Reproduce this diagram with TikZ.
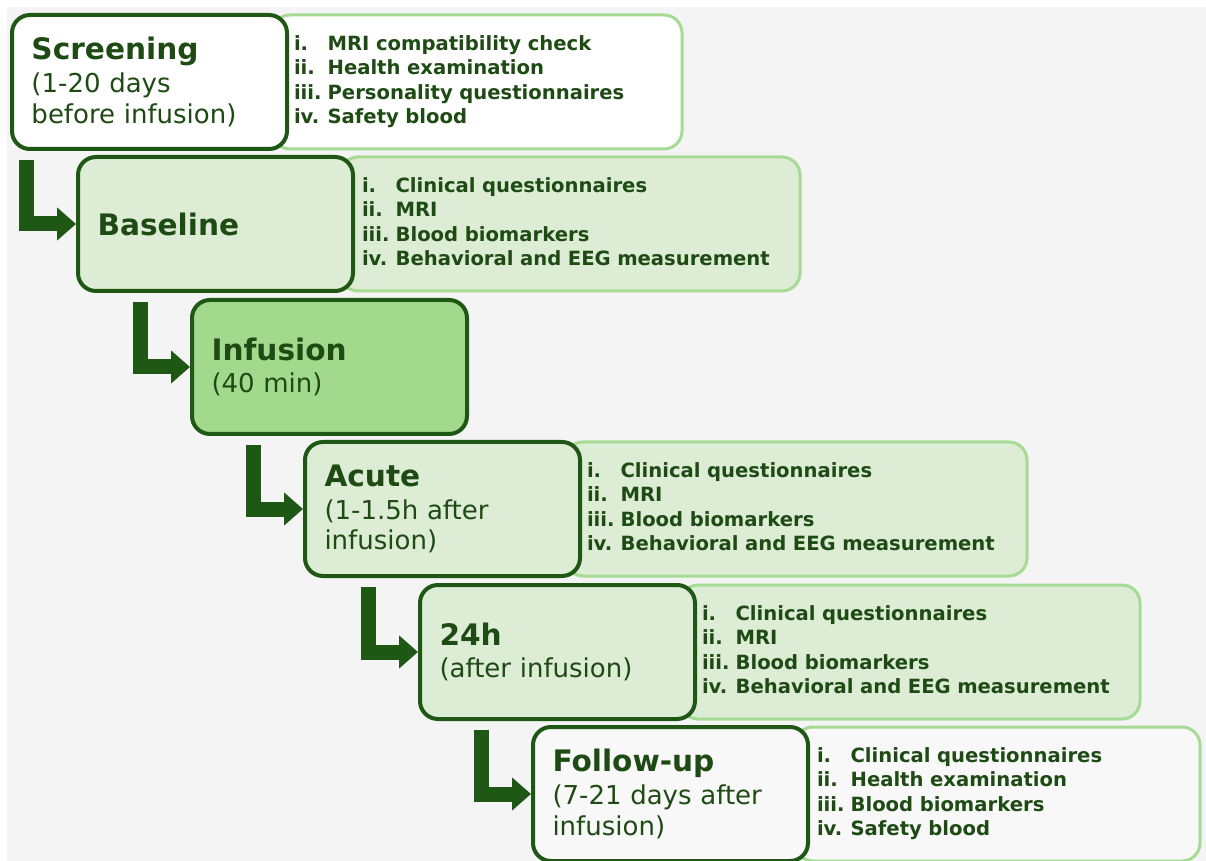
\documentclass[tikz,border=0pt]{standalone}
\usepackage{fontspec}
\setmainfont{DejaVu Sans}
\usetikzlibrary{arrows.meta}

\definecolor{darkgreen}{HTML}{1F5714}
\definecolor{textgreen}{HTML}{1E4A14}
\definecolor{lightedge}{HTML}{A6DB94}
\definecolor{palefill}{HTML}{DDECD5}
\definecolor{midfill}{HTML}{A3D98D}
\definecolor{bggray}{HTML}{F4F4F4}

\newcommand{\phasetitle}[1]{{\fontsize{14.8}{16}\selectfont\bfseries #1}}
\newcommand{\itemsfour}[4]{\begin{tabular}{@{}l@{\hspace{3pt}}l@{}}
i. & #1\\ ii. & #2\\ iii. & #3\\ iv. & #4
\end{tabular}}

\tikzset{
  phase/.style={draw=darkgreen, line width=2pt, rounded corners=9pt,
    minimum height=67pt, text width=118pt, inner xsep=9.75pt,
    align=left, text=textgreen, font=\fontsize{13}{15.3}\selectfont},
  detail/.style={draw=lightedge, line width=1.5pt, rounded corners=9pt,
    minimum height=67pt, text width=#1, inner xsep=11pt, align=left,
    text=textgreen, font=\bfseries\fontsize{9.8}{12.25}\selectfont},
  flow/.style={darkgreen, line width=7.5pt,
    -{Triangle[length=9.5pt,width=16pt]}}
}

\begin{document}
\begin{tikzpicture}[x=0.5pt,y=-0.5pt]
\fill[white] (0,0) rectangle (1206,861);
\fill[bggray] (7,7) rectangle (1206,861);
\useasboundingbox (0,0) rectangle (1206,861);

% detail boxes
\node[detail=183pt, fill=white] (scrd) at (477,82) {\itemsfour{MRI compatibility check}{Health examination}{Personality questionnaires}{Safety blood}};
\node[detail=208pt, fill=palefill] (based) at (570,224) {\itemsfour{Clinical questionnaires}{MRI}{Blood biomarkers}{Behavioral and EEG measurement}};
\node[detail=209pt, fill=palefill] (acuted) at (796,509) {\itemsfour{Clinical questionnaires}{MRI}{Blood biomarkers}{Behavioral and EEG measurement}};
\node[detail=208pt, fill=palefill] (dayd) at (910,652) {\itemsfour{Clinical questionnaires}{MRI}{Blood biomarkers}{Behavioral and EEG measurement}};
\node[detail=180.5pt, fill=bggray!60!white] (fud) at (997.5,794) {\itemsfour{Clinical questionnaires}{Health examination}{Blood biomarkers}{Safety blood}};

% phases
\node[phase, fill=white] (scr) at (149.5,82) {\phasetitle{Screening}\\[1pt](1-20 days\\before infusion)};
\node[phase, fill=palefill] (base) at (215.5,224) {\phasetitle{Baseline}};
\node[phase, fill=midfill] (inf) at (329.5,367) {\phasetitle{Infusion}\\[1pt](40 min)};
\node[phase, fill=palefill] (acute) at (442.5,509) {\phasetitle{Acute}\\[1pt](1-1.5h after\\infusion)};
\node[phase, fill=palefill] (day) at (557.5,652) {\phasetitle{24h}\\[1pt](after infusion)};
\node[phase, fill=bggray!60!white] (fu) at (670.5,794) {\phasetitle{Follow-up}\\[1pt](7-21 days after\\infusion)};

% arrows
\draw[flow] (scr.south -| base.west) ++(-50,9) |- (base.west);
\draw[flow] (base.south -| inf.west) ++(-50,9) |- (inf.west);
\draw[flow] (inf.south -| acute.west) ++(-50,9) |- (acute.west);
\draw[flow] (acute.south -| day.west) ++(-50,9) |- (day.west);
\draw[flow] (day.south -| fu.west) ++(-50,9) |- (fu.west);
\end{tikzpicture}
\end{document}
